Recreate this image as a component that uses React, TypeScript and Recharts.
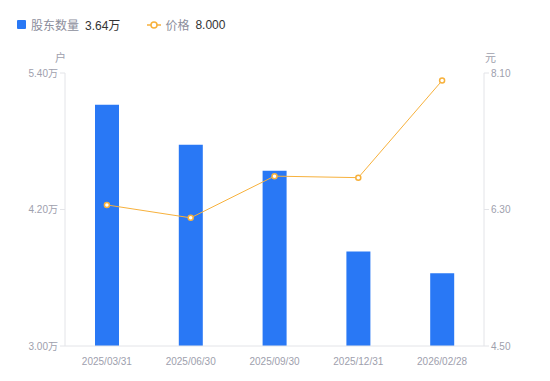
import React from 'react';
import { ComposedChart, Bar, Line, XAxis, YAxis } from 'recharts';

const categories = ['2025/03/31', '2025/06/30', '2025/09/30', '2025/12/31', '2026/02/28'];
const holders = [5.12, 4.77, 4.54, 3.83, 3.64];
const prices = [6.36, 6.19, 6.74, 6.72, 8.0];
const leftTicks = [3.0, 4.2, 5.4];
const rightTicks = [4.5, 6.3, 8.1];

const data = categories.map((c, i) => ({ date: c, holders: holders[i], price: prices[i] }));

const FONT = "'Liberation Sans', 'Noto Sans CJK SC', sans-serif";
const BLUE = '#2978f5';
const ORANGE = '#f7b13c';
const TICK = { fill: '#9ea0ad', fontSize: 10, fontFamily: FONT };

export default function App() {
  return (
    <div style={{ position: 'absolute', left: 0, top: 0, width: 550, height: 381, background: '#fff', fontFamily: FONT }}>
      <div style={{ position: 'absolute', left: 17, top: 16, display: 'flex', alignItems: 'center', fontSize: 12, whiteSpace: 'nowrap' }}>
        <span style={{ display: 'inline-block', width: 9, height: 9, background: BLUE, borderRadius: 1, marginRight: 5 }} />
        <span style={{ color: '#8c8e9c' }}>股东数量</span>
        <span style={{ color: '#333', marginLeft: 6 }}>3.64万</span>
        <svg width={14} height={10} style={{ marginLeft: 27, marginRight: 4 }}>
          <line x1={0} y1={5} x2={14} y2={5} stroke={ORANGE} strokeWidth={1.5} />
          <circle cx={7} cy={5} r={3} fill="#fff" stroke={ORANGE} strokeWidth={1.5} />
        </svg>
        <span style={{ color: '#8c8e9c' }}>价格</span>
        <span style={{ color: '#333', marginLeft: 6 }}>8.000</span>
      </div>
      <div style={{ position: 'absolute', left: 55, top: 49, fontSize: 11, color: '#9ea0ad' }}>户</div>
      <div style={{ position: 'absolute', left: 485, top: 49, fontSize: 11, color: '#9ea0ad' }}>元</div>
      <ComposedChart width={550} height={381} data={data} margin={{ top: 73, right: 0, bottom: 0, left: 0 }}>
        <XAxis
          dataKey="date"
          height={35}
          tick={TICK}
          tickLine={false}
          axisLine={{ stroke: '#e3e4e8' }}
          tickMargin={6}
        />
        <YAxis
          yAxisId="left"
          orientation="left"
          width={65}
          domain={[3.0, 5.4]}
          ticks={leftTicks}
          tickFormatter={(v: number) => v.toFixed(2) + '万'}
          tick={TICK}
          tickSize={5}
          tickMargin={2}
          tickLine={{ stroke: '#e3e4e8' }}
          axisLine={{ stroke: '#e3e4e8' }}
          interval={0}
        />
        <YAxis
          yAxisId="right"
          orientation="right"
          width={66}
          domain={[4.5, 8.1]}
          ticks={rightTicks}
          tickFormatter={(v: number) => v.toFixed(2)}
          tick={TICK}
          tickSize={5}
          tickMargin={2}
          tickLine={{ stroke: '#e3e4e8' }}
          axisLine={{ stroke: '#e3e4e8' }}
          interval={0}
        />
        <Bar yAxisId="left" dataKey="holders" fill={BLUE} barSize={24} isAnimationActive={false} />
        <Line
          yAxisId="right"
          type="linear"
          dataKey="price"
          stroke={ORANGE}
          strokeWidth={1}
          dot={{ r: 2.5, fill: '#fff', stroke: ORANGE, strokeWidth: 1.5 }}
          isAnimationActive={false}
        />
      </ComposedChart>
    </div>
  );
}
